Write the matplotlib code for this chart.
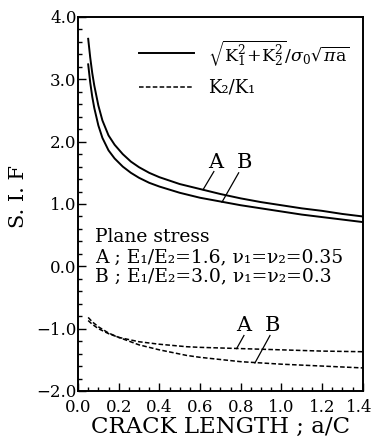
import numpy as np
import matplotlib
matplotlib.use("Agg")
import matplotlib.pyplot as plt
import matplotlib.transforms as mtransforms
from matplotlib.ticker import MultipleLocator

plt.rcParams['font.family'] = ['DejaVu Serif']
plt.rcParams['mathtext.fontset'] = 'dejavuserif'

# Solid curves: sqrt(K1^2+K2^2)/sigma0 sqrt(pi a)
x_solid = [0.05, 0.06, 0.07, 0.08, 0.10, 0.12, 0.15, 0.18, 0.22, 0.26, 0.30, 0.35, 0.40,
           0.50, 0.60, 0.70, 0.80, 0.90, 1.00, 1.10, 1.20, 1.30, 1.40]
sif_A = [3.65, 3.35, 3.10, 2.90, 2.58, 2.34, 2.10, 1.95, 1.80, 1.68, 1.59, 1.50, 1.43,
         1.32, 1.24, 1.16, 1.09, 1.03, 0.98, 0.93, 0.89, 0.84, 0.80]
sif_B = [3.24, 2.95, 2.72, 2.54, 2.26, 2.06, 1.86, 1.73, 1.60, 1.50, 1.42, 1.34, 1.28,
         1.18, 1.10, 1.04, 0.98, 0.93, 0.88, 0.83, 0.79, 0.75, 0.71]

# Dashed curves: K2/K1
x_dash = [0.05, 0.07, 0.10, 0.15, 0.20, 0.30, 0.40, 0.535, 0.60, 0.80, 1.00, 1.20, 1.40]
k21_A = [-0.87, -0.93, -1.00, -1.08, -1.14, -1.21, -1.25, -1.29, -1.30, -1.32, -1.34, -1.36, -1.37]
k21_B = [-0.82, -0.89, -0.97, -1.07, -1.14, -1.26, -1.34, -1.43, -1.46, -1.53, -1.57, -1.60, -1.63]

xticks = [0.0, 0.2, 0.4, 0.6, 0.8, 1.0, 1.2, 1.4]
yticks = [-2.0, -1.0, 0.0, 1.0, 2.0, 3.0, 4.0]

fig = plt.figure(figsize=(3.74, 4.40), dpi=100)
ax = fig.add_axes([0.2086, 0.1114, 0.7612, 0.85])

ax.plot(x_solid, sif_A, color='black', lw=1.4)
ax.plot(x_solid, sif_B, color='black', lw=1.4)
ax.plot(x_dash, k21_A, color='black', lw=1.1, ls=(0, (3, 1.5)))
ax.plot(x_dash, k21_B, color='black', lw=1.1, ls=(0, (3, 1.5)))

ax.set_xlim(0.0, 1.4)
ax.set_ylim(-2.0, 4.0)
ax.set_xticks(xticks)
ax.set_xticklabels([f"{v:.1f}" for v in xticks])
ax.set_yticks(yticks)
ax.set_yticklabels([f"{v:.1f}".replace('-', '\u2212') for v in yticks])
ax.xaxis.set_minor_locator(MultipleLocator(0.05))
ax.yaxis.set_minor_locator(MultipleLocator(0.2))
ax.tick_params(which='both', direction='in', top=False, right=False, labelsize=12, width=1.0)
ax.tick_params(which='major', length=6)
ax.tick_params(axis='y', which='major', pad=1)
ax.tick_params(axis='x', which='major', pad=6)
ax.tick_params(which='minor', length=3)
for s in ax.spines.values():
    s.set_linewidth(1.4)

# nudge the last x tick label so it stays inside the figure
last = ax.get_xticklabels()[-1]
last.set_transform(last.get_transform() + mtransforms.ScaledTranslation(-4 / 100, 0, fig.dpi_scale_trans))

ax.set_xlabel('CRACK LENGTH ; a/C', fontsize=16.5, labelpad=0)
ax.set_ylabel('S. I. F', fontsize=15)
ax.yaxis.set_label_coords(-0.175, 0.52)

# legend (drawn manually)
ax.plot([0.30, 0.57], [3.42, 3.42], color='black', lw=1.4)
ax.plot([0.30, 0.57], [2.87, 2.87], color='black', lw=1.1, ls=(0, (3, 1.5)))
ax.text(0.64, 3.42, r'$\sqrt{\mathrm{K}_1^2\!+\!\mathrm{K}_2^2}/\sigma_0\sqrt{\pi\mathrm{a}}$',
        fontsize=12.5, va='center', ha='left')
ax.text(0.64, 2.87, 'K\u2082/K\u2081', fontsize=13, va='center', ha='left')

# curve labels
ax.text(0.675, 1.66, 'A', fontsize=15, ha='center', va='center')
ax.text(0.82, 1.66, 'B', fontsize=15, ha='center', va='center')
ax.plot([0.615, 0.668], [1.23, 1.52], color='black', lw=0.9)
ax.plot([0.708, 0.79], [1.03, 1.50], color='black', lw=0.9)
ax.text(0.816, -0.95, 'A', fontsize=15, ha='center', va='center')
ax.text(0.954, -0.95, 'B', fontsize=15, ha='center', va='center')
ax.plot([0.78, 0.816], [-1.32, -1.11], color='black', lw=0.9)
ax.plot([0.87, 0.944], [-1.55, -1.11], color='black', lw=0.9)

# condition text
ax.text(0.085, 0.47, 'Plane stress', fontsize=13.5, ha='left', va='center')
ax.text(0.085, 0.15, 'A ; E\u2081/E\u2082=1.6, \u03bd\u2081=\u03bd\u2082=0.35', fontsize=13.5, ha='left', va='center')
ax.text(0.085, -0.16, 'B ; E\u2081/E\u2082=3.0, \u03bd\u2081=\u03bd\u2082=0.3', fontsize=13.5, ha='left', va='center')

fig.savefig('out.png', dpi=100)
